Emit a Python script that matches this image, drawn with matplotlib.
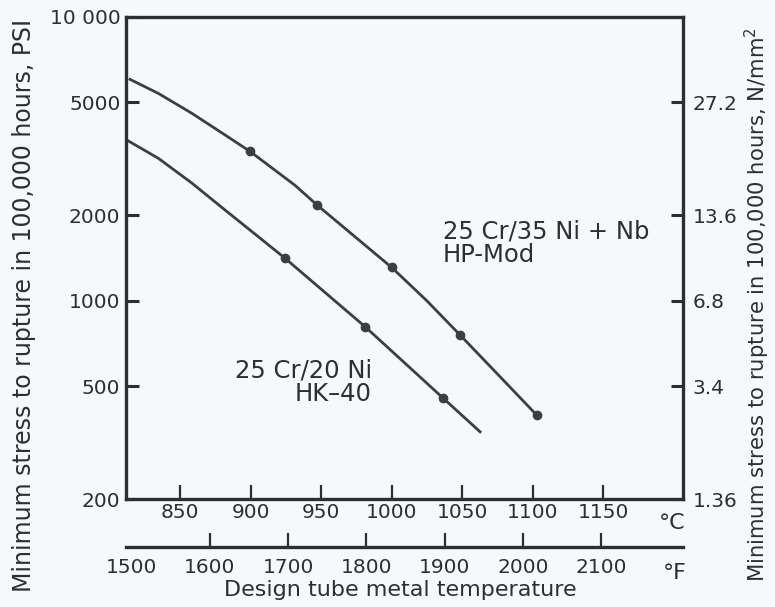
import matplotlib
matplotlib.use("Agg")
from matplotlib import pyplot as plt
from matplotlib.ticker import NullLocator

# curve points (deg C, psi)
hp_temp = [814.5, 834.6, 858.3, 881.9, 899.6, 931.6, 946.9, 1000.1, 1025.0, 1048.6, 1076.9, 1103.0]
hp_stress = [6030, 5380, 4580, 3840, 3360, 2550, 2180, 1310, 1000, 757, 540, 395]
hp_mark_temp = [899.6, 946.9, 1000.1, 1048.6, 1103.0]
hp_mark_stress = [3360, 2180, 1310, 757, 395]

hk_temp = [812.2, 834.6, 858.3, 881.9, 905.5, 924.5, 981.2, 991.8, 1036.7, 1062.8]
hk_stress = [3685, 3177, 2600, 2088, 1681, 1411, 810, 725, 453, 345]
hk_mark_temp = [924.5, 981.2, 1036.7]
hk_mark_stress = [1411, 810, 453]

psi_ticks = [200, 500, 1000, 2000, 5000, 10000]
psi_labels = ["200", "500", "1000", "2000", "5000", "10 000"]
nmm_ticks = [200, 500, 1000, 2000, 5000]
nmm_labels = ["1.36", "3.4", "6.8", "13.6", "27.2"]
c_ticks = [850, 900, 950, 1000, 1050, 1100, 1150]
f_ticks = [1500, 1600, 1700, 1800, 1900, 2000, 2100]

INK = "#2e2e2e"
LINE = "#3a3f3f"
BG = "#f6f9fc"


def c2f(c):
    return c * 9.0 / 5.0 + 32.0


def f2c(f):
    return (f - 32.0) * 5.0 / 9.0


def draw():
    plt.rcParams["font.family"] = "DejaVu Sans"
    fig = plt.figure(figsize=(7.75, 6.07), dpi=100, facecolor=BG)
    ax = fig.add_axes([0.1626, 0.1779, 0.7187, 0.7941], facecolor=BG)

    ax.plot(hp_temp, hp_stress, color=LINE, lw=2.0)
    ax.plot(hp_mark_temp, hp_mark_stress, "o", color=LINE, ms=6)
    ax.plot(hk_temp, hk_stress, color=LINE, lw=2.0)
    ax.plot(hk_mark_temp, hk_mark_stress, "o", color=LINE, ms=6)

    ax.set_yscale("log")
    ax.set_ylim(200, 10000)
    ax.set_xlim(811.7, 1206.7)
    ax.yaxis.set_minor_locator(NullLocator())
    ax.set_yticks(psi_ticks)
    ax.set_yticklabels(psi_labels)
    ax.set_xticks(c_ticks)
    ax.set_xticklabels([str(t) for t in c_ticks])

    for s in ax.spines.values():
        s.set_linewidth(2.4)
        s.set_color(INK)
    ax.tick_params(axis="y", direction="in", length=9, width=2.2, pad=4,
                   labelsize=14.5, colors=INK, right=False)
    ax.tick_params(axis="x", direction="in", length=10, width=1.6, pad=3,
                   labelsize=14.5, colors=INK, top=False)

    axr = ax.twinx()
    axr.set_yscale("log")
    axr.set_ylim(200, 10000)
    axr.yaxis.set_minor_locator(NullLocator())
    axr.set_yticks(nmm_ticks)
    axr.set_yticklabels(nmm_labels)
    axr.tick_params(axis="y", direction="in", length=9, width=2.2, pad=7,
                    labelsize=14.5, colors=INK)
    for s in axr.spines.values():
        s.set_visible(False)

    sec = ax.secondary_xaxis(-0.0996, functions=(c2f, f2c))
    sec.set_xticks(f_ticks)
    sec.set_xticklabels([str(t) for t in f_ticks])
    sec.tick_params(direction="in", length=10, width=1.6, pad=8,
                    labelsize=14.5, colors=INK)
    sec.spines["bottom"].set_linewidth(2.4)
    sec.spines["bottom"].set_color(INK)
    sec.xaxis.get_major_ticks()[0].tick1line.set_visible(False)

    ax.text(0.569, 0.531, "25 Cr/35 Ni + Nb\nHP-Mod", transform=ax.transAxes,
            ha="left", va="center", fontsize=17.5, color=INK, linespacing=1.0)
    ax.text(0.4416, 0.2427, "25 Cr/20 Ni\nHK\u201340", transform=ax.transAxes,
            ha="right", va="center", fontsize=17.5, color=INK, linespacing=1.0,
            multialignment="right")

    fig.text(672 / 775, 1 - 523 / 607, "\u00b0C", ha="center", va="center",
             fontsize=16, color=INK)
    fig.text(675 / 775, 1 - 573 / 607, "\u00b0F", ha="center", va="center",
             fontsize=16, color=INK)
    fig.text(400 / 775, 1 - 590 / 607, "Design tube metal temperature",
             ha="center", va="center", fontsize=16, color=INK)
    fig.text(24 / 775, 1 - 305 / 607,
             "Minimum stress to rupture in 100,000 hours, PSI",
             rotation=90, ha="center", va="center", fontsize=17, color=INK)
    fig.text(757 / 775, 1 - 305 / 607,
             "Minimum stress to rupture in 100,000 hours, N/mm$^2$",
             rotation=90, ha="center", va="center", fontsize=15.2, color=INK)

    fig.savefig("out.png", dpi=100, facecolor=BG)


if __name__ == "__main__":
    draw()
